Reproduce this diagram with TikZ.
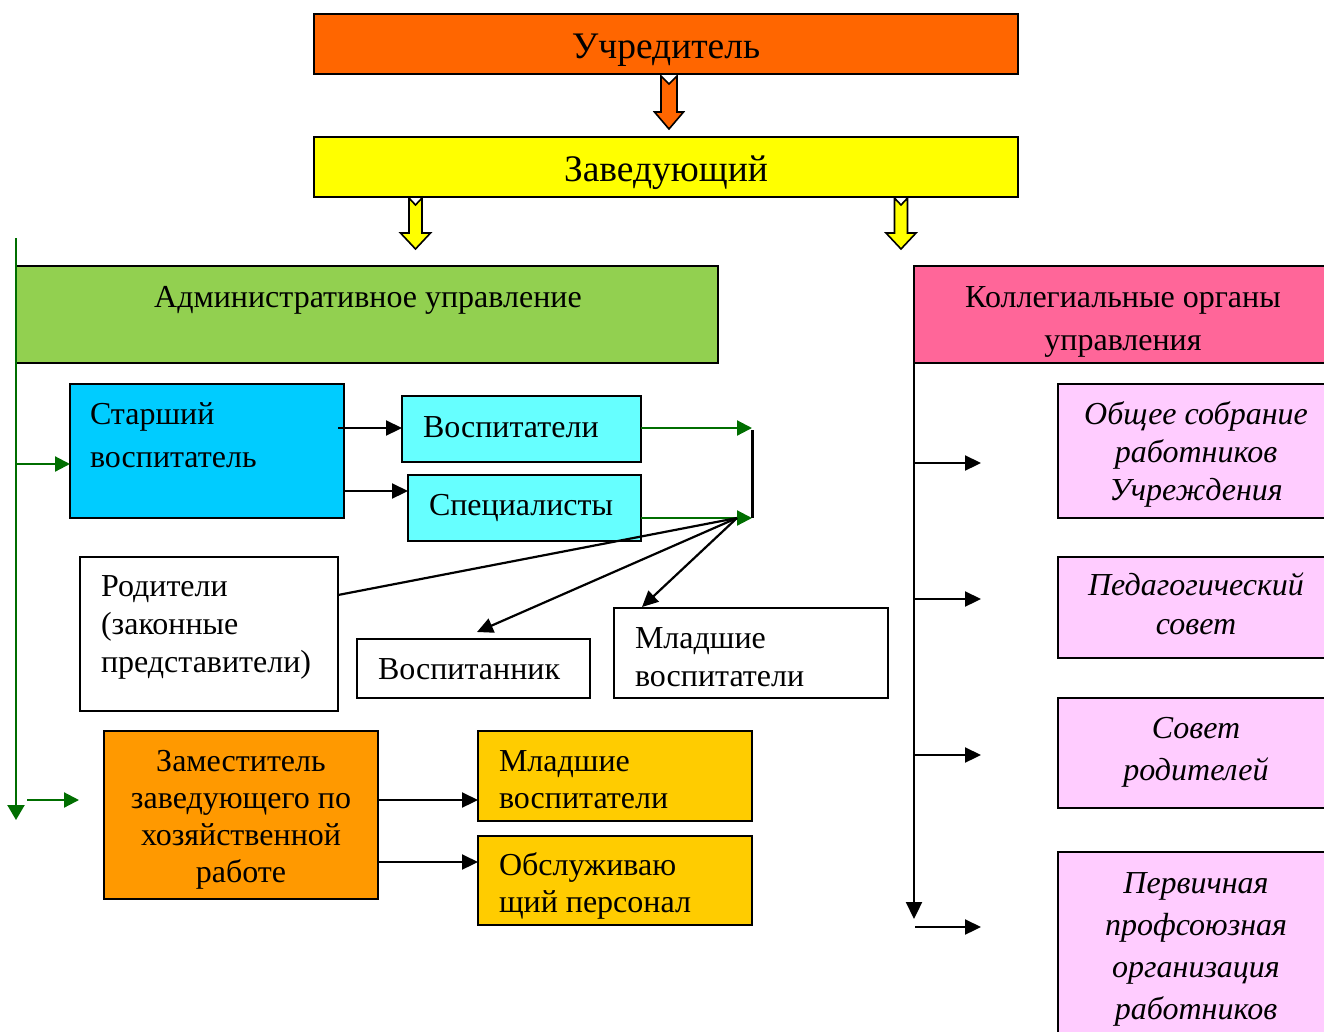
\documentclass[tikz,border=0pt]{standalone}
\usepackage{fontspec}
\setmainfont{Liberation Serif}
\usetikzlibrary{arrows.meta}
\definecolor{cTop}{HTML}{FF6600}
\definecolor{cZav}{HTML}{FFFF00}
\definecolor{cAdm}{HTML}{92D050}
\definecolor{cKol}{HTML}{FF6699}
\definecolor{cSt}{HTML}{00CCFF}
\definecolor{cCy}{HTML}{66FFFF}
\definecolor{cZam}{HTML}{FF9900}
\definecolor{cGold}{HTML}{FFCC00}
\definecolor{cLp}{HTML}{FFCCFF}
\definecolor{cGr}{RGB}{0,110,0}
\newcommand\myblockarrow[8]{% fill, cx, top, notch, headstart, tip, shaft half, head half
  \fill[#1,draw=black,line width=1.6pt,line join=miter]
    (#2-#7,#3) -- (#2,#3+#4) -- (#2+#7,#3) -- (#2+#7,#5) -- (#2+#8,#5) -- (#2,#6)
    -- (#2-#8,#5) -- (#2-#7,#5) -- cycle;}
\begin{document}
\begin{tikzpicture}[x=1pt,y=-1pt,
  box/.style={draw=black,line width=1.5pt,inner sep=0pt,outer sep=0pt,anchor=north west},
  txt/.style={inner sep=0pt,outer sep=0pt,anchor=base,font=\fontsize{32}{38}\selectfont},
  big/.style={txt,font=\fontsize{37.5}{40}\selectfont},
  itx/.style={txt,font=\fontsize{32}{38}\selectfont\itshape},
  blk/.style={draw=black,line width=2.2pt,-{Triangle[length=16pt,width=15pt]}},
  grn/.style={draw=cGr,line width=2.2pt,-{Triangle[length=15pt,width=15pt]}}]
\useasboundingbox (0,0) rectangle (1324,1031);
\clip (0,0) rectangle (1324,1031);
% boxes
\node[box,fill=cTop,minimum width=704pt,minimum height=60pt] (uch) at (314,14) {};
\node[box,fill=cZav,minimum width=704pt,minimum height=60pt] (zav) at (314,137) {};
\node[box,fill=cAdm,minimum width=702pt,minimum height=97pt] (adm) at (16,266) {};
\node[box,fill=cKol,minimum width=430pt,minimum height=97pt] (kol) at (914,266) {};
\node[box,fill=cSt,minimum width=274pt,minimum height=134pt] (star) at (70,384) {};
\node[box,fill=cCy,minimum width=239pt,minimum height=66pt] (vosp) at (402,396) {};
\node[box,fill=cCy,minimum width=233pt,minimum height=66pt] (spec) at (408,475) {};
\node[box,fill=white,minimum width=258pt,minimum height=154pt] (rod) at (80,557) {};
\node[box,fill=white,minimum width=233pt,minimum height=59pt] (vpk) at (357,639) {};
\node[box,fill=white,minimum width=274pt,minimum height=90pt] (mlw) at (614,608) {};
\node[box,fill=cZam,minimum width=274pt,minimum height=168pt] (zam) at (104,731) {};
\node[box,fill=cGold,minimum width=274pt,minimum height=90pt] (mlg) at (478,731) {};
\node[box,fill=cGold,minimum width=274pt,minimum height=89pt] (obs) at (478,836) {};
\node[box,fill=cLp,minimum width=290pt,minimum height=134pt] (obsh) at (1058,384) {};
\node[box,fill=cLp,minimum width=290pt,minimum height=101pt] (ped) at (1058,557) {};
\node[box,fill=cLp,minimum width=290pt,minimum height=110pt] (sov) at (1058,698) {};
\node[box,fill=cLp,minimum width=290pt,minimum height=200pt] (prof) at (1058,852) {};
% texts (multi-line: base = last line)
\node[big] (uchT) at (666,58) {Учредитель};
\node[big] (zavT) at (666,181) {Заведующий};
\node[txt] (admT) at (368,307) {Административное управление};
\node[txt,align=center,font=\fontsize{32}{43}\selectfont] (kolT) at (1123,350) {Коллегиальные органы\\управления};
\node[txt,anchor=base west,align=left,font=\fontsize{32}{43}\selectfont] (starT) at (90,467) {Старший\\воспитатель};
\node[txt,anchor=base west] (vospT) at (423,437) {Воспитатели};
\node[txt,anchor=base west] (specT) at (429,515) {Специалисты};
\node[txt,anchor=base west,align=left] (rodT) at (101,672) {Родители\\(законные\\представители)};
\node[txt,anchor=base west] (vpkT) at (378,679) {Воспитанник};
\node[txt,anchor=base west,align=left] (mlwT) at (635,686) {Младшие\\воспитатели};
\node[txt,align=center,font=\fontsize{32}{37}\selectfont] (zamT) at (241,882) {Заместитель\\заведующего по\\хозяйственной\\работе};
\node[txt,anchor=base west,align=left,font=\fontsize{32}{37}\selectfont] (mlgT) at (499,808) {Младшие\\воспитатели};
\node[txt,anchor=base west,align=left,font=\fontsize{32}{37}\selectfont] (obsT) at (499,912) {Обслуживаю\\щий персонал};
\node[itx,align=center] (obshT) at (1196,500) {Общее собрание\\работников\\Учреждения};
\node[itx,align=center,font=\fontsize{32}{39}\selectfont\itshape] (pedT) at (1196,634) {Педагогический\\совет};
\node[itx,align=center,font=\fontsize{32}{42}\selectfont\itshape] (sovT) at (1196,780) {Совет\\родителей};
\node[itx,align=center,font=\fontsize{32}{42}\selectfont\itshape] (profT) at (1196,1019) {Первичная\\профсоюзная\\организация\\работников};
% block arrows
\myblockarrow{cTop}{669}{76}{8}{112}{129}{8}{14.5}
\myblockarrow{cZav}{415.5}{198}{7}{233}{249}{6.5}{15}
\myblockarrow{cZav}{901}{198}{7}{233}{249}{6.5}{15}
% left green trunk
\coordinate (gTop) at (16,238);
\coordinate (gBot) at (16,820);
\draw[grn,-{Triangle[length=15pt,width=17pt]}] (gTop) -- (gBot);
\coordinate (gS) at (16,464);
\draw[grn] (gS) -- (star.west |- gS);
\coordinate (gZ) at (27,800);
\coordinate (gZe) at (79,800);
\draw[grn] (gZ) -- (gZe);
% starshiy -> vosp, spec
\coordinate (s1) at (338,428);
\coordinate (s2) at (344,491);
\draw[blk] (s1) -- (vosp.west |- s1);
\draw[blk] (s2) -- (spec.west |- s2);
% green to junction
\coordinate (j1) at (752,428);
\coordinate (j2) at (752,518);
\draw[grn] (vosp.east |- j1) -- (j1);
\draw[grn] (spec.east |- j2) -- (j2);
\coordinate (j1t) at (752.5,430);
\coordinate (j2b) at (752.5,518);
\draw[black,line width=2.2pt] (j1t) -- (j2b);
% hub lines
\coordinate (hub) at (737,518);
\coordinate (rodP) at (338,595);
\coordinate (vpkP) at (477,632);
\coordinate (mlwP) at (642,607);
\draw[black,line width=2.2pt] (rodP) -- (hub);
\draw[blk] (hub) -- (vpkP);
\draw[blk] (hub) -- (mlwP);
% zam arrows
\coordinate (z1) at (378,800);
\coordinate (z2) at (378,862);
\draw[blk] (z1) -- (mlg.west |- z1);
\draw[blk] (z2) -- (obs.west |- z2);
% right trunk
\coordinate (rBot) at (914,919);
\draw[blk,-{Triangle[length=17pt,width=16pt]}] (kol.south west) -- (rBot);
\coordinate (r1) at (914,463);
\coordinate (r2) at (914,599);
\coordinate (r3) at (914,755);
\coordinate (r4) at (915,927);
\coordinate (r1e) at (981,463);
\coordinate (r2e) at (981,599);
\coordinate (r3e) at (981,755);
\coordinate (r4e) at (981,927);
\draw[blk] (r1) -- (r1e);
\draw[blk] (r2) -- (r2e);
\draw[blk] (r3) -- (r3e);
\draw[blk] (r4) -- (r4e);
\end{tikzpicture}
\end{document}
